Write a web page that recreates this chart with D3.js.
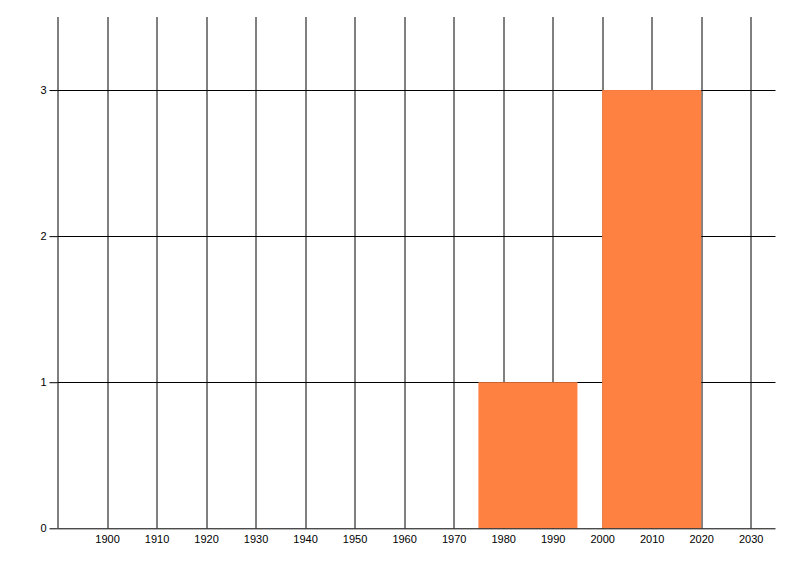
<!DOCTYPE html>
<html>
<head>
<meta charset="utf-8">
<script src="https://cdn.jsdelivr.net/npm/d3@7"></script>
<style>
  body { margin: 0; background: #fff; }
  .tick text { font-family: "Liberation Sans", Arial, sans-serif; font-size: 11px; fill: #000; }
</style>
</head>
<body>
<div id="chart"></div>
<script>
// bins: start year, end year, count
var binStart = [1975, 2000];
var binEnd = [1995, 2020];
var binCount = [1, 3];

var xTicks = [1900, 1910, 1920, 1930, 1940, 1950, 1960, 1970, 1980, 1990, 2000, 2010, 2020, 2030];
var yTicks = [0, 1, 2, 3];

var svgWidth = 800;
var svgHeight = 576;

var margin = { top: 17, right: 24.5, bottom: 47.7, left: 57.5 };

var chartWidth = svgWidth - margin.left - margin.right;
var chartHeight = svgHeight - margin.top - margin.bottom;

var svg = d3.select("#chart")
    .append("svg")
    .attr("width", svgWidth)
    .attr("height", svgHeight);

var chartGroup = svg.append("g")
    .attr("transform", `translate(${margin.left}, ${margin.top})`);

var bins = binStart.map(function(s, i) {
    return { start: s, end: binEnd[i], count: binCount[i] };
});

var xScale = d3.scaleLinear()
    .domain([1890, 2035])
    .range([0, chartWidth]);

var yScale = d3.scaleLinear()
    .domain([0, 3.5])
    .range([chartHeight, 0]);

// vertical grid lines
chartGroup.append("g")
    .selectAll("line")
    .data(xTicks)
    .enter()
    .append("line")
    .attr("x1", d => Math.round(xScale(d)) + 0.5)
    .attr("x2", d => Math.round(xScale(d)) + 0.5)
    .attr("y1", 0)
    .attr("y2", chartHeight)
    .attr("stroke", "#000");

// horizontal grid lines
chartGroup.append("g")
    .selectAll("line")
    .data(yTicks.slice(1))
    .enter()
    .append("line")
    .attr("x1", 0)
    .attr("x2", chartWidth)
    .attr("y1", d => Math.round(yScale(d)) + 0.5)
    .attr("y2", d => Math.round(yScale(d)) + 0.5)
    .attr("stroke", "#000");

// bars drawn over the grid
chartGroup.selectAll("rect.bar")
    .data(bins)
    .enter()
    .append("rect")
    .attr("class", "bar")
    .attr("x", d => xScale(d.start))
    .attr("width", d => xScale(d.end) - xScale(d.start))
    .attr("y", d => yScale(d.count))
    .attr("height", d => yScale(0) - yScale(d.count))
    .attr("fill", "#ff8142");

// x axis
var bottomAxis = d3.axisBottom(xScale)
    .tickValues(xTicks)
    .tickFormat(d3.format("d"))
    .tickSize(0)
    .tickPadding(7);

var xAxisG = chartGroup.append("g")
    .attr("transform", `translate(0, ${chartHeight})`)
    .call(bottomAxis);
xAxisG.select(".domain").attr("stroke", "#000").attr("d", `M0,0.5H${chartWidth}`);

// y axis
var leftAxis = d3.axisLeft(yScale)
    .tickValues(yTicks)
    .tickFormat(d3.format("d"))
    .tickSize(8)
    .tickPadding(3);

var yAxisG = chartGroup.append("g")
    .call(leftAxis);
yAxisG.select(".domain").attr("stroke", "#000").attr("d", `M0.5,0V${chartHeight}`);
yAxisG.selectAll(".tick line").attr("stroke", "#000");
</script>
</body>
</html>
